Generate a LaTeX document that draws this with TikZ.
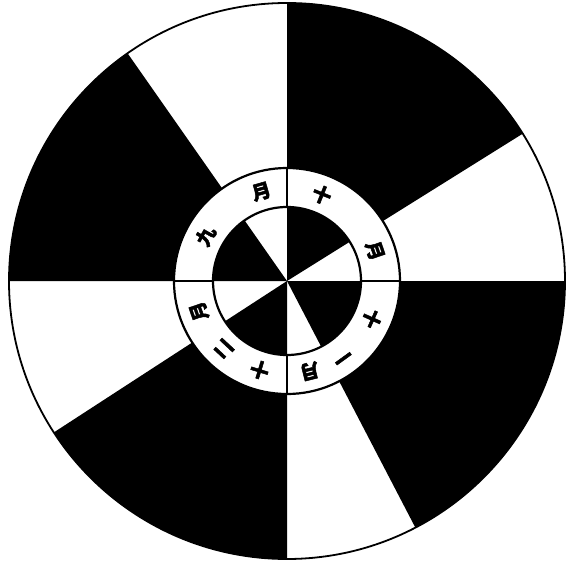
\documentclass[tikz,border=0pt]{standalone}
\usepackage{fontspec}
\newfontfamily\cjk[FakeBold=2.5]{Noto Sans CJK SC}
\usepackage{tikz}
\tikzset{
  hei/.style={fill=black},
  ringline/.style={line width=2.2pt},
  rim/.style={line width=1.8pt},
  yue/.style={font=\cjk\bfseries\fontsize{19}{19}\selectfont,inner sep=0pt},
}

\begin{document}
\begin{tikzpicture}
  \useasboundingbox (-287pt,-289pt) rectangle (278pt,281pt);
  \coordinate (o) at (0,0);
  % black sectors of the wheel
  \foreach \a/\b in {32/90,125/180,213/270,297.5/360}
    \fill[hei] (o) -- (\a:278pt) arc (\a:\b:278pt) -- cycle;
  \draw[rim] (o) circle (278pt);
  % white ring with the months
  \fill[white,even odd rule] (o) circle (113pt) circle (74pt);
  \draw[ringline] (o) circle (113pt);
  \draw[ringline] (o) circle (74pt);
  \foreach \a in {0,90,180,270}
    \draw[ringline] (\a:73pt) -- (\a:114pt);
  \foreach \c/\a [count=\i] in {九/151,月/106,十/68,月/19,十/-24,一/-54,月/-76,十/253,二/227,月/199}
    \node[yue,rotate=\a-90] (m\i) at (\a:93pt) {\c};
\end{tikzpicture}
\end{document}
